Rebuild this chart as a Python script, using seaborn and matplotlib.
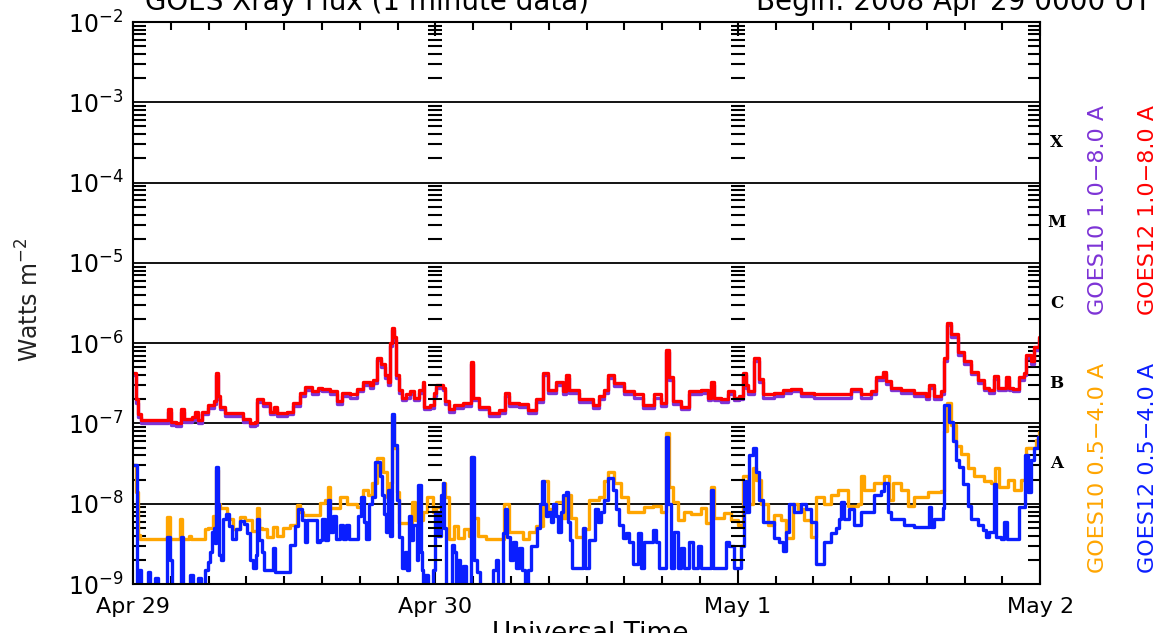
import numpy as np
import pandas as pd
import matplotlib
matplotlib.use("Agg")
import matplotlib.pyplot as plt
import matplotlib.transforms as mtransforms
from matplotlib.ticker import LogLocator, MultipleLocator
import seaborn as sns

# hours after 2008 Apr 29 00:00 UT, flux in W m^-2
long_hours = [0.00, 0.24, 0.40, 0.64, 2.54, 2.78, 3.02, 3.42, 3.82, 4.05,
              4.69, 4.93, 5.17, 5.49, 5.96, 6.44, 6.60, 6.76, 6.92, 7.31,
              8.11, 8.74, 9.30, 9.70, 9.86, 10.34, 10.89, 11.21, 11.45, 12.24,
              12.72, 13.28, 13.67, 14.23, 14.71, 15.03, 15.66, 16.22, 16.62, 17.25,
              17.81, 18.28, 18.84, 19.08, 19.40, 19.72, 20.03, 20.27, 20.43, 20.59,
              20.75, 20.91, 21.15, 21.38, 21.70, 22.02, 22.34, 22.66, 22.98, 23.06,
              23.61, 23.85, 24.01, 24.57, 24.80, 25.04, 25.44, 26.16, 26.63, 26.79,
              26.95, 27.43, 28.22, 29.02, 29.49, 29.81, 30.61, 31.32, 31.96, 32.51,
              32.91, 33.55, 34.11, 34.34, 34.58, 35.38, 36.49, 36.97, 37.37, 37.68,
              38.16, 38.96, 39.75, 40.47, 41.34, 41.90, 42.29, 42.53, 42.85, 43.49,
              44.12, 45.08, 45.63, 45.87, 46.11, 46.67, 47.22, 47.70, 48.10, 48.42,
              48.65, 48.81, 49.29, 49.69, 50.01, 50.88, 51.60, 52.23, 53.03, 54.06,
              56.21, 57.00, 57.80, 58.59, 58.99, 59.55, 59.78, 60.18, 60.98, 62.01,
              62.96, 63.20, 63.60, 64.16, 64.40, 64.63, 64.95, 65.51, 65.99, 66.54,
              67.10, 67.58, 67.97, 68.37, 68.69, 69.32, 69.56, 69.88, 70.36, 70.76,
              70.91, 71.31, 71.55, 71.95]

goes12_long = [4.3e-7, 2.0e-7, 1.3e-7, 1.1e-7, 1.1e-7, 1.5e-7, 1.05e-7, 1.0e-7, 1.5e-7, 1.15e-7,
               1.2e-7, 1.4e-7, 1.1e-7, 1.4e-7, 1.7e-7, 1.9e-7, 4.3e-7, 2.2e-7, 1.6e-7, 1.35e-7,
               1.35e-7, 1.15e-7, 1.0e-7, 1.05e-7, 2.0e-7, 1.8e-7, 1.4e-7, 1.6e-7, 1.35e-7, 1.4e-7,
               1.8e-7, 2.4e-7, 2.85e-7, 2.5e-7, 2.8e-7, 2.7e-7, 2.5e-7, 1.9e-7, 2.4e-7, 2.3e-7,
               2.7e-7, 3.3e-7, 3.0e-7, 3.5e-7, 6.6e-7, 5.5e-7, 4.0e-7, 3.3e-7, 1.0e-6, 1.55e-6,
               1.2e-6, 4.0e-7, 2.6e-7, 2.1e-7, 2.3e-7, 2.5e-7, 2.1e-7, 2.6e-7, 3.3e-7, 1.6e-7,
               1.7e-7, 2.4e-7, 3.0e-7, 2.8e-7, 1.9e-7, 1.5e-7, 1.7e-7, 1.8e-7, 1.8e-7, 5.9e-7,
               2.1e-7, 1.6e-7, 1.35e-7, 1.45e-7, 2.4e-7, 1.8e-7, 1.75e-7, 1.45e-7, 2.0e-7, 4.3e-7,
               2.6e-7, 3.3e-7, 2.5e-7, 4.0e-7, 2.6e-7, 2.0e-7, 1.7e-7, 2.2e-7, 2.6e-7, 4.0e-7,
               3.2e-7, 2.5e-7, 2.3e-7, 1.7e-7, 2.3e-7, 1.8e-7, 8.3e-7, 3.8e-7, 1.9e-7, 1.6e-7,
               2.5e-7, 2.6e-7, 2.1e-7, 3.3e-7, 2.1e-7, 2.0e-7, 2.5e-7, 2.1e-7, 2.2e-7, 4.3e-7,
               3.0e-7, 2.5e-7, 6.5e-7, 3.6e-7, 2.3e-7, 2.4e-7, 2.6e-7, 2.7e-7, 2.4e-7, 2.3e-7,
               2.3e-7, 2.7e-7, 2.3e-7, 2.5e-7, 3.8e-7, 4.4e-7, 3.4e-7, 2.8e-7, 2.6e-7, 2.4e-7,
               2.2e-7, 3.0e-7, 2.2e-7, 2.5e-7, 6.5e-7, 1.8e-6, 1.3e-6, 7.8e-7, 6.0e-7, 4.4e-7,
               3.5e-7, 2.8e-7, 2.6e-7, 3.9e-7, 2.8e-7, 3.8e-7, 2.8e-7, 2.7e-7, 3.8e-7, 4.3e-7,
               7.2e-7, 6.0e-7, 9.0e-7, 1.2e-6]

goes10_long = [4.0e-7, 1.8e-7, 1.2e-7, 1.0e-7, 1.0e-7, 1.4e-7, 0.97e-7, 0.92e-7, 1.4e-7, 1.05e-7,
               1.1e-7, 1.3e-7, 1.0e-7, 1.3e-7, 1.55e-7, 1.75e-7, 4.0e-7, 2.0e-7, 1.5e-7, 1.25e-7,
               1.25e-7, 1.05e-7, 0.92e-7, 0.97e-7, 1.85e-7, 1.65e-7, 1.3e-7, 1.5e-7, 1.25e-7, 1.3e-7,
               1.65e-7, 2.2e-7, 2.6e-7, 2.3e-7, 2.6e-7, 2.5e-7, 2.3e-7, 1.75e-7, 2.2e-7, 2.1e-7,
               2.5e-7, 3.0e-7, 2.8e-7, 3.2e-7, 6.1e-7, 5.1e-7, 3.7e-7, 3.0e-7, 0.93e-6, 1.45e-6,
               1.1e-6, 3.7e-7, 2.4e-7, 1.95e-7, 2.1e-7, 2.3e-7, 1.95e-7, 2.4e-7, 3.0e-7, 1.5e-7,
               1.55e-7, 2.2e-7, 2.8e-7, 2.6e-7, 1.75e-7, 1.4e-7, 1.55e-7, 1.65e-7, 1.65e-7, 5.5e-7,
               1.95e-7, 1.5e-7, 1.25e-7, 1.35e-7, 2.2e-7, 1.65e-7, 1.6e-7, 1.35e-7, 1.85e-7, 4.0e-7,
               2.4e-7, 3.0e-7, 2.3e-7, 3.7e-7, 2.4e-7, 1.85e-7, 1.55e-7, 2.0e-7, 2.4e-7, 3.7e-7,
               2.95e-7, 2.3e-7, 2.1e-7, 1.55e-7, 2.1e-7, 1.65e-7, 7.7e-7, 3.5e-7, 1.75e-7, 1.5e-7,
               2.3e-7, 2.4e-7, 1.95e-7, 3.0e-7, 1.95e-7, 1.85e-7, 2.3e-7, 1.95e-7, 2.0e-7, 4.0e-7,
               2.8e-7, 2.3e-7, 6.0e-7, 3.3e-7, 2.1e-7, 2.2e-7, 2.4e-7, 2.5e-7, 2.2e-7, 2.1e-7,
               2.1e-7, 2.5e-7, 2.1e-7, 2.3e-7, 3.5e-7, 4.1e-7, 3.1e-7, 2.6e-7, 2.4e-7, 2.2e-7,
               2.0e-7, 2.8e-7, 2.0e-7, 2.3e-7, 6.0e-7, 1.7e-6, 1.2e-6, 7.2e-7, 5.5e-7, 4.1e-7,
               3.2e-7, 2.6e-7, 2.4e-7, 3.6e-7, 2.6e-7, 3.5e-7, 2.6e-7, 2.5e-7, 3.5e-7, 4.0e-7,
               6.6e-7, 5.5e-7, 8.3e-7, 1.1e-6]

goes10_short_hours = [0.00, 0.24, 0.40, 0.56, 2.70, 2.94, 3.74, 3.90, 4.45, 4.61,
                      5.72, 5.96, 6.36, 6.60, 6.76, 6.92, 7.47, 7.95, 8.51, 8.90,
                      9.46, 9.86, 10.02, 10.26, 10.65, 11.13, 11.45, 11.92, 12.48, 13.04,
                      13.28, 13.52, 14.23, 14.87, 15.26, 15.50, 15.66, 16.46, 17.01, 17.81,
                      18.28, 18.68, 19.00, 19.40, 19.87, 20.19, 20.43, 20.59, 20.75, 20.99,
                      21.15, 21.86, 22.18, 22.42, 23.05, 23.37, 23.77, 24.01, 24.57, 24.80,
                      25.04, 25.44, 25.83, 26.24, 26.63, 26.79, 26.95, 27.35, 27.98, 29.41,
                      29.81, 30.93, 31.40, 31.96, 32.51, 32.91, 33.55, 34.11, 34.34, 34.74,
                      35.14, 35.70, 36.17, 36.97, 37.37, 37.68, 38.16, 38.72, 39.27, 40.55,
                      41.26, 41.90, 42.29, 42.53, 42.85, 43.25, 43.73, 44.28, 45.08, 45.47,
                      45.87, 46.11, 46.90, 47.46, 48.02, 48.42, 48.81, 49.21, 49.45, 49.85,
                      50.40, 50.88, 51.44, 51.83, 52.39, 52.79, 53.27, 53.82, 54.22, 54.85,
                      55.41, 55.97, 56.76, 57.56, 57.80, 58.04, 58.83, 59.63, 60.02, 60.34,
                      60.98, 61.53, 62.01, 63.12, 64.16, 64.40, 64.63, 64.95, 65.35, 65.75,
                      66.30, 66.78, 67.58, 68.13, 68.45, 68.77, 69.48, 69.96, 70.52, 70.91,
                      71.31, 71.71, 71.95]

goes10_short = [3.0e-8, 1.4e-8, 4.1e-9, 3.6e-9, 6.9e-9, 3.6e-9, 6.5e-9, 3.6e-9, 4.0e-9, 3.6e-9,
                4.8e-9, 5.0e-9, 7.0e-9, 2.6e-8, 1.0e-8, 8.9e-9, 6.5e-9, 4.8e-9, 6.9e-9, 6.2e-9,
                4.6e-9, 8.9e-9, 5.0e-9, 4.8e-9, 3.8e-9, 5.2e-9, 4.0e-9, 5.0e-9, 5.5e-9, 9.6e-9,
                8.0e-9, 7.3e-9, 7.3e-9, 1.03e-8, 1.1e-8, 1.6e-8, 8.9e-9, 1.2e-8, 1.0e-8, 9.0e-9,
                1.5e-8, 1.3e-8, 1.8e-8, 3.7e-8, 2.5e-8, 1.2e-8, 1.8e-8, 1.25e-7, 5.0e-8, 1.4e-8,
                5.7e-9, 5.7e-9, 1.05e-8, 6.3e-9, 8.0e-9, 1.2e-8, 8.0e-9, 9.0e-9, 1.8e-8, 1.2e-8,
                3.6e-9, 5.3e-9, 3.7e-9, 4.8e-9, 4.0e-9, 3.8e-8, 6.6e-9, 4.0e-9, 3.6e-9, 1.0e-8,
                4.4e-9, 3.6e-9, 4.4e-9, 5.3e-9, 1.9e-8, 8.5e-9, 1.05e-8, 6.6e-9, 1.3e-8, 6.6e-9,
                3.8e-9, 4.8e-9, 1.1e-8, 1.2e-8, 1.9e-8, 2.5e-8, 1.8e-8, 1.2e-8, 8.0e-9, 9.0e-9,
                9.5e-9, 8.0e-9, 7.5e-8, 1.6e-8, 1.05e-8, 6.3e-9, 8.0e-9, 7.5e-9, 8.9e-9, 5.7e-9,
                1.6e-8, 6.6e-9, 7.7e-9, 6.3e-9, 5.5e-9, 2.2e-8, 1.0e-8, 2.8e-8, 2.0e-8, 1.0e-8,
                5.5e-9, 7.3e-9, 6.3e-9, 3.7e-9, 1.0e-8, 8.5e-9, 6.3e-9, 3.8e-9, 1.2e-8, 1.0e-8,
                1.3e-8, 1.5e-8, 9.5e-9, 1.0e-8, 2.2e-8, 1.5e-8, 1.8e-8, 2.2e-8, 1.1e-8, 1.8e-8,
                1.5e-8, 9.5e-9, 1.2e-8, 1.4e-8, 1.45e-8, 8.0e-8, 1.8e-7, 9.5e-8, 5.3e-8, 4.2e-8,
                2.8e-8, 2.2e-8, 1.9e-8, 1.8e-8, 2.8e-8, 1.6e-8, 2.0e-8, 1.5e-8, 2.0e-8, 5.0e-8,
                5.0e-8, 6.2e-8, 7.8e-8]

goes12_short_hours = [0.00, 0.24, 0.32, 0.48, 0.64, 1.19, 1.35, 1.75, 1.99, 2.70,
                      2.94, 3.10, 3.82, 3.97, 4.53, 4.77, 5.17, 5.41, 5.72, 5.96,
                      6.12, 6.28, 6.44, 6.52, 6.60, 6.76, 6.84, 7.00, 7.15, 7.39,
                      7.63, 7.87, 8.19, 8.51, 8.82, 9.06, 9.30, 9.54, 9.78, 9.86,
                      10.02, 10.26, 10.41, 11.13, 11.29, 12.48, 12.88, 13.12, 13.44, 13.67,
                      13.83, 14.63, 14.87, 15.03, 15.26, 15.50, 15.66, 15.90, 16.14, 16.46,
                      16.70, 16.93, 17.17, 17.89, 18.13, 18.36, 18.52, 18.76, 19.00, 19.24,
                      19.48, 19.64, 19.80, 19.95, 20.11, 20.27, 20.43, 20.59, 20.75, 20.99,
                      21.15, 21.31, 21.62, 21.78, 21.94, 22.10, 22.26, 22.50, 22.58, 22.82,
                      22.90, 23.05, 23.21, 23.45, 23.77, 23.93, 24.17, 24.41, 24.57, 24.72,
                      24.88, 25.28, 25.44, 25.60, 25.83, 25.99, 26.16, 26.39, 26.79, 27.03,
                      27.27, 27.51, 28.54, 28.78, 28.94, 29.34, 29.49, 29.65, 29.89, 30.13,
                      30.37, 30.61, 30.85, 31.08, 31.32, 31.56, 32.04, 32.28, 32.44, 32.59,
                      32.75, 32.91, 33.15, 33.31, 33.55, 33.71, 33.95, 34.11, 34.34, 34.50,
                      34.66, 34.82, 35.70, 35.85, 36.17, 36.65, 36.89, 37.13, 37.37, 37.68,
                      38.08, 38.32, 38.56, 38.88, 39.11, 39.35, 39.67, 40.07, 40.31, 40.55,
                      41.26, 41.50, 41.74, 42.29, 42.45, 42.69, 42.93, 43.25, 43.49, 43.73,
                      44.12, 44.44, 44.84, 45.08, 45.87, 46.03, 47.06, 47.30, 47.70, 48.26,
                      48.50, 48.65, 48.89, 49.21, 49.45, 49.69, 50.01, 50.88, 51.28, 51.60,
                      51.83, 52.07, 52.47, 53.03, 53.42, 53.82, 54.22, 54.85, 55.41, 55.81,
                      56.04, 56.21, 56.44, 56.84, 57.24, 57.80, 58.83, 59.39, 59.63, 59.94,
                      60.18, 61.21, 62.01, 63.20, 63.36, 63.60, 64.32, 64.40, 64.79, 65.11,
                      65.35, 65.59, 65.91, 66.30, 66.54, 67.10, 67.50, 67.73, 67.97, 68.37,
                      68.53, 68.92, 69.16, 69.40, 70.36, 70.83, 71.07, 71.31, 71.55, 71.87,
                      72.00]

goes12_short = [3.0e-8, 3.0e-8, 8e-10, 1.5e-9, 6e-10, 1.4e-9, 7e-10, 1.2e-9, 7e-10, 3.9e-9,
                2.0e-9, 7e-10, 3.8e-9, 7e-10, 1.3e-9, 7e-10, 1.2e-9, 7e-10, 1.5e-9, 1.9e-9,
                2.5e-9, 4.5e-9, 5.0e-9, 3.2e-9, 2.9e-8, 1.0e-8, 2.3e-9, 2.0e-9, 6.5e-9, 7.5e-9,
                5.3e-9, 3.6e-9, 4.8e-9, 6.1e-9, 5.6e-9, 4.3e-9, 2.0e-9, 1.6e-9, 2.3e-9, 6.5e-9,
                3.5e-9, 2.5e-9, 1.5e-9, 2.8e-9, 1.4e-9, 3.1e-9, 5.3e-9, 8.5e-9, 6.2e-9, 3.3e-9,
                6.2e-9, 3.3e-9, 3.5e-9, 6.5e-9, 3.5e-9, 1.1e-8, 4.5e-9, 7.0e-9, 3.6e-9, 5.5e-9,
                3.6e-9, 5.5e-9, 3.6e-9, 7.0e-9, 1.2e-8, 6.0e-9, 3.6e-9, 1.0e-8, 1.2e-8, 3.3e-8,
                3.3e-8, 2.2e-8, 1.3e-8, 7.5e-9, 4.5e-9, 1.5e-8, 4.0e-9, 1.3e-7, 5.4e-8, 1.1e-8,
                3.8e-9, 1.6e-9, 2.5e-9, 1.5e-9, 7.0e-9, 3.5e-9, 5.5e-9, 2.0e-9, 1.7e-8, 2.5e-9,
                1.5e-9, 7e-10, 1.3e-9, 7e-10, 1.5e-9, 8.0e-9, 4.0e-9, 1.3e-8, 1.8e-8, 5.0e-9,
                7e-10, 3.1e-9, 2.5e-9, 7e-10, 2.0e-9, 7e-10, 1.7e-9, 7e-10, 3.8e-8, 2.0e-9,
                1.4e-9, 7e-10, 1.5e-9, 2.0e-9, 7e-10, 4.3e-9, 8.6e-9, 3.8e-9, 2.0e-9, 3.3e-9,
                1.6e-9, 2.8e-9, 1.5e-9, 7e-10, 1.5e-9, 3.0e-9, 5.0e-9, 1.0e-8, 1.9e-8, 1.0e-8,
                7.0e-9, 8.0e-9, 6.0e-9, 1.0e-8, 7.0e-9, 4.5e-9, 8.0e-9, 1.3e-8, 1.4e-8, 6.0e-9,
                3.5e-9, 1.6e-9, 5.0e-9, 1.6e-9, 3.5e-9, 8.5e-9, 6.0e-9, 8.0e-9, 1.1e-8, 2.1e-8,
                1.5e-8, 8.6e-9, 5.5e-9, 3.7e-9, 4.3e-9, 3.3e-9, 1.8e-9, 4.3e-9, 1.6e-9, 3.3e-9,
                4.7e-9, 3.3e-9, 1.6e-9, 6.8e-8, 1.0e-8, 1.6e-9, 4.4e-9, 1.6e-9, 2.8e-9, 1.6e-9,
                3.3e-9, 1.6e-9, 3.0e-9, 1.6e-9, 1.5e-8, 1.6e-9, 3.3e-9, 3.0e-9, 1.6e-9, 3.0e-9,
                1.9e-8, 8.0e-9, 4.0e-8, 5.0e-8, 2.5e-8, 1.1e-8, 6.0e-9, 3.7e-9, 3.3e-9, 2.6e-9,
                4.4e-9, 1.0e-8, 8.0e-9, 1.0e-8, 8.6e-9, 6.0e-9, 1.8e-9, 3.3e-9, 4.3e-9, 5.0e-9,
                6.5e-9, 1.05e-8, 6.5e-9, 8.6e-9, 5.5e-9, 8.0e-9, 1.3e-8, 1.45e-8, 1.8e-8, 8.0e-9,
                6.5e-9, 5.5e-9, 5.2e-9, 9.0e-9, 5.2e-9, 6.5e-9, 8.8e-9, 1.7e-7, 1.05e-7, 6.0e-8,
                3.5e-8, 2.9e-8, 1.75e-8, 9.5e-9, 6.5e-9, 5.5e-9, 4.7e-9, 3.9e-9, 4.5e-9, 1.75e-8,
                3.9e-9, 3.6e-9, 6.0e-9, 3.6e-9, 9.0e-9, 4.1e-8, 1.4e-8, 3.5e-8, 5.0e-8, 6.8e-8,
                7.5e-8]

channels = ["GOES10 1.0\u22128.0 A", "GOES12 1.0\u22128.0 A",
            "GOES10 0.5\u22124.0 A", "GOES12 0.5\u22124.0 A"]
channel_colors = ["#7d33d6", "#ff0000", "#ffa500", "#0a1eff"]

day_hours = [0, 24, 48, 72]
day_labels = ["Apr 29", "Apr 30", "May 1", "May 2"]

flare_classes = ["A", "B", "C", "M", "X"]
class_floor = [1e-8, 1e-7, 1e-6, 1e-5, 1e-4]

#%%
df = pd.concat([
    pd.DataFrame({"hours": long_hours, "flux": goes10_long, "channel": channels[0]}),
    pd.DataFrame({"hours": long_hours, "flux": goes12_long, "channel": channels[1]}),
    pd.DataFrame({"hours": goes10_short_hours, "flux": goes10_short, "channel": channels[2]}),
    pd.DataFrame({"hours": goes12_short_hours, "flux": goes12_short, "channel": channels[3]}),
], ignore_index=True)

sns.set_theme(style="white")
plt.rcParams["font.family"] = ["DejaVu Sans"]

fig = plt.figure(figsize=(11.62, 6.33), dpi=100)
ax = fig.add_axes([0.1145, 0.0774, 0.7806, 0.8878])

sns.lineplot(data=df, x="hours", y="flux", hue="channel", hue_order=channels,
             palette=dict(zip(channels, channel_colors)), estimator=None, sort=False,
             legend=False, lw=2.4, drawstyle="steps-post", ax=ax)

ax.set_yscale("log")
ax.set_ylim(1e-9, 1e-2)
ax.set_xlim(day_hours[0], day_hours[-1])
ax.set_xlabel("")
ax.set_ylabel("")

ax.yaxis.set_major_locator(LogLocator(base=10, numticks=20))
ax.yaxis.set_minor_locator(LogLocator(base=10, subs=np.arange(2, 10), numticks=20))
ax.grid(axis="y", which="major", color="black", lw=1.3)
ax.grid(axis="x", visible=False)
ax.tick_params(axis="y", which="minor", direction="in", length=9, width=1.5,
               left=True, right=True, color="black")
ax.tick_params(axis="y", which="major", direction="in", length=0, left=True,
               right=True, labelsize=17, pad=7, labelcolor="black")

ax.set_xticks(day_hours)
ax.set_xticklabels(day_labels)
ax.xaxis.set_minor_locator(MultipleLocator(3))
ax.tick_params(axis="x", which="major", direction="in", length=10, width=1.5,
               top=True, bottom=True, labelsize=16, pad=9, color="black",
               labelcolor="black")
ax.tick_params(axis="x", which="minor", direction="in", length=6, width=1.5,
               top=True, bottom=True, color="black")

for sp in ax.spines.values():
    sp.set_color("black")
    sp.set_linewidth(1.5)

# y ticks repeated along the day boundaries
minor_y = [m * 10.0 ** e for e in range(-9, -2) for m in range(2, 10)]
for d in day_hours[1:-1]:
    ax.plot([d] * len(minor_y), minor_y, ls="none", marker="_", ms=10, mew=1.5,
            color="black")

# flare class letters
trans = mtransforms.blended_transform_factory(ax.transAxes, ax.transData)
for letter, lo in zip(flare_classes, class_floor):
    ax.text(1.018, lo * 10 ** 0.5, letter, transform=trans, ha="center", va="center",
            fontsize=12, fontweight="bold", family="DejaVu Serif", color="black")

# channel labels on the right
fig.text(0.945, 0.668, channels[0], rotation=90, ha="center", va="center",
         fontsize=16, color=channel_colors[0])
fig.text(0.988, 0.668, channels[1], rotation=90, ha="center", va="center",
         fontsize=16, color=channel_colors[1])
fig.text(0.945, 0.261, channels[2], rotation=90, ha="center", va="center",
         fontsize=16, color=channel_colors[2])
fig.text(0.988, 0.261, channels[3], rotation=90, ha="center", va="center",
         fontsize=16, color=channel_colors[3])

fig.text(0.026, 0.526, "Watts m$^{-2}$", rotation=90, ha="center", va="center",
         fontsize=17, color="#222222")

# title and x label, partly cut by the figure edge as in the reference
fig.text(0.125, 0.984, "GOES Xray Flux (1 minute data)", fontsize=20, va="baseline",
         color="black")
fig.text(0.651, 0.984, "Begin: 2008 Apr 29 0000 UT", fontsize=20, va="baseline",
         color="black")
fig.text(0.508, 0.019, "Universal Time", fontsize=19, ha="center", va="top",
         color="black")

plt.savefig("out.png", dpi=100)
